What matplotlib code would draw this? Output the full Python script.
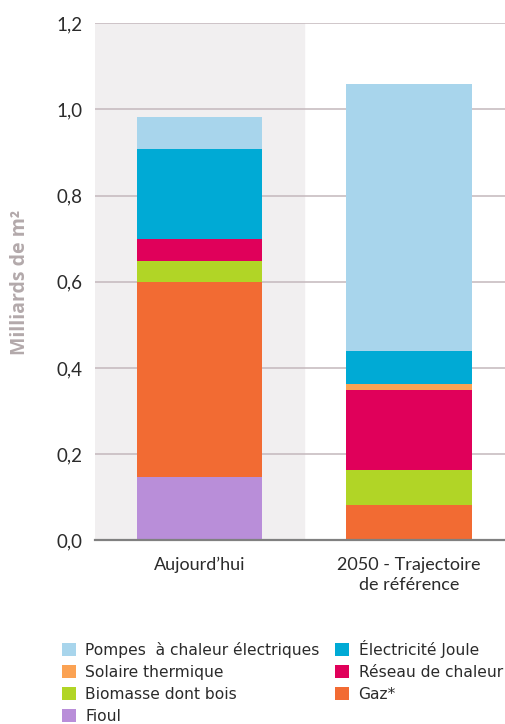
import numpy as np
import matplotlib.pyplot as plt
from matplotlib.patches import Patch

# Data (billions of m2)
categories = ["Aujourd\u2019hui", "2050 - Trajectoire\nde r\u00e9f\u00e9rence"]
series_names = ["Fioul", "Gaz*", "Biomasse dont bois", "R\u00e9seau de chaleur",
                "Solaire thermique", "\u00c9lectricit\u00e9 Joule",
                "Pompes  \u00e0 chaleur \u00e9lectriques"]
fioul = [0.147, 0.0]
gaz = [0.453, 0.082]
biomasse = [0.049, 0.081]
reseau = [0.051, 0.185]
solaire = [0.0, 0.015]
elec_joule = [0.208, 0.076]
pac = [0.075, 0.621]
series = [fioul, gaz, biomasse, reseau, solaire, elec_joule, pac]
colors = ["#B98ED9", "#F26B33", "#B1D526", "#E0005A", "#FBA253", "#00AAD5", "#A8D5EC"]
yticks = [0.0, 0.2, 0.4, 0.6, 0.8, 1.0, 1.2]

fig = plt.figure(figsize=(5.05, 7.24), dpi=100)
ax = fig.add_axes([0.188, 0.2537, 0.812, 0.7143])

x = np.arange(len(categories))
ax.axvspan(-0.5, 0.5, color="#F1EFF0", zorder=0)

bottom = np.zeros(len(categories))
for vals, col in zip(series, colors):
    ax.bar(x, vals, width=0.6, bottom=bottom, color=col, zorder=3)
    bottom += np.array(vals)

ax.set_xlim(-0.5, 1.46)
ax.set_ylim(0, 1.2)
ax.set_yticks(yticks)
ax.set_yticklabels([f"{v:.1f}".replace(".", ",") for v in yticks],
                   fontsize=13.5, color="#2b2b2b", family="Lato")
ax.set_xticks(x)
ax.set_xticklabels(categories, fontsize=13, color="#2b2b2b", family="Lato",
                   linespacing=1.3)
ax.tick_params(axis="both", length=0)
ax.tick_params(axis="y", pad=9)
ax.tick_params(axis="x", pad=12)

for v in yticks[1:]:
    ax.axhline(v, color="#C4B8BC", lw=1.1, zorder=1)
for s in ["top", "right", "left"]:
    ax.spines[s].set_visible(False)
ax.spines["bottom"].set_color("#808080")
ax.spines["bottom"].set_linewidth(1.6)
ax.spines["bottom"].set_zorder(4)

fig.text(0.04, 0.61, "Milliards de m\u00b2", rotation=90, ha="center", va="center",
         fontsize=14, fontweight="bold", color="#B3A9AB", family="Open Sans")

# legend, row order as in the reference
order = [6, 4, 2, 0, 5, 3, 1]
handles = [Patch(facecolor=colors[i], label=series_names[i]) for i in order]
leg = fig.legend(handles=handles, ncol=2, loc="upper left", bbox_to_anchor=(0.095, 0.135),
                 frameon=False, handlelength=0.9, handleheight=0.9,
                 handletextpad=0.6, columnspacing=1.0, labelspacing=0.45,
                 prop={"family": "DejaVu Sans", "size": 11.2})
for t in leg.get_texts():
    t.set_color("#2b2b2b")

fig.savefig("out.png", dpi=100)
